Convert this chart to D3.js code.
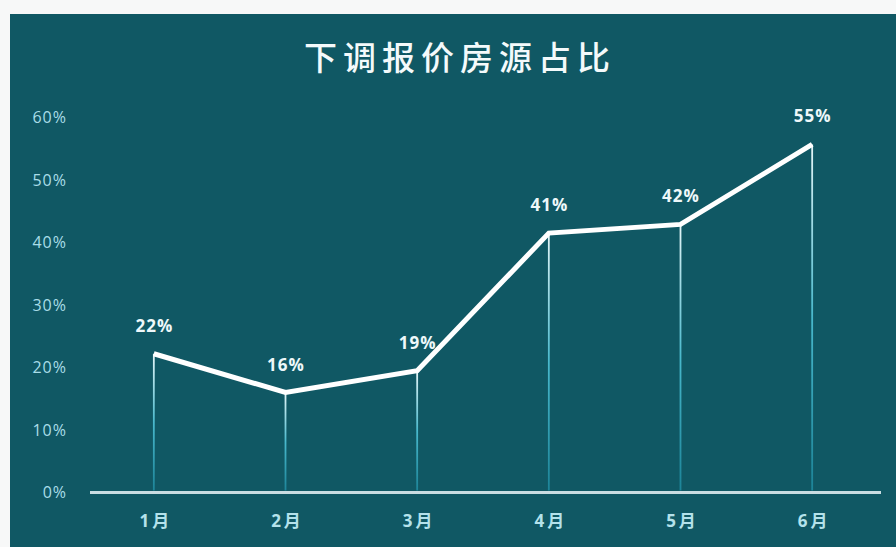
<!DOCTYPE html>
<html>
<head>
<meta charset="utf-8">
<script src="https://cdn.jsdelivr.net/npm/d3@7"></script>
<style>
    body { margin: 0; background: #fff; }
</style>
</head>
<body>
<div id="vis"></div>
<script>
// data
var months = ["1月", "2月", "3月", "4月", "5月", "6月"];
var shares = [22.2, 16.0, 19.5, 41.5, 42.9, 55.7];
var shareLabels = ["22%", "16%", "19%", "41%", "42%", "55%"];
var yTicks = [0, 10, 20, 30, 40, 50, 60];

function lineChart() {
//width and height of svg
    var w = 896;
    var h = 547;

    var svg = d3.select("#vis")
                .append("svg")
                .attr("width", w)
                .attr("height", h)
                .style("display", "block");

    var defs = svg.append("defs");

    // white paper around the scanned chart
    svg.append("rect")
        .attr("width", w)
        .attr("height", h)
        .attr("fill", "#f7f8f8");

    svg.append("rect")
        .attr("x", 10)
        .attr("y", 14)
        .attr("width", w - 10)
        .attr("height", h - 14)
        .attr("fill", "#105864");

//scales
    var xScale = d3.scalePoint()
                    .domain(months)
                    .range([88, 878])
                    .padding(0.5);

    var yScale = d3.scaleLinear()
                    .domain([0, 60])
                    .range([492.5, 117.5]);

//title
    svg.append("text")
        .attr("x", 457)
        .attr("y", 70)
        .attr("text-anchor", "middle")
        .attr("fill", "#f4fafb")
        .attr("font-family", "'Noto Sans CJK SC', sans-serif")
        .attr("font-weight", 500)
        .attr("font-size", "33px")
        .attr("letter-spacing", "6px")
        .attr("dx", 3)
        .text("下调报价房源占比");

//y axis labels (no axis line)
    var yAxis = svg.append("g")
                    .attr("transform", "translate(67,0)")
                    .call(d3.axisLeft(yScale)
                            .tickValues(yTicks)
                            .tickSize(0)
                            .tickPadding(0)
                            .tickFormat(function(d) { return d + "%"; }));

    yAxis.select(".domain").remove();
    yAxis.selectAll("text")
            .attr("fill", "#a9dde8")
            .attr("font-family", "'Open Sans', sans-serif")
            .attr("font-size", "16px")
            .attr("letter-spacing", "1px");

//x axis: baseline + month labels
    svg.append("line")
        .attr("x1", 90)
        .attr("x2", 881)
        .attr("y1", yScale(0))
        .attr("y2", yScale(0))
        .attr("stroke", "#c9dde2")
        .attr("stroke-width", 3);

    var xAxis = svg.append("g")
                    .attr("transform", "translate(0," + yScale(0) + ")")
                    .call(d3.axisBottom(xScale).tickSize(0).tickPadding(22));

    xAxis.select(".domain").remove();
    xAxis.selectAll("text")
            .attr("fill", "#b4e2eb")
            .attr("font-family", "'Open Sans', 'Noto Sans CJK SC', sans-serif")
            .attr("font-weight", 700)
            .attr("font-size", "17px")
            .attr("letter-spacing", "3px")
            .attr("dx", 1.5);

//drop lines from each point to the baseline
    shares.forEach(function(v, i) {
        var g = defs.append("linearGradient")
                    .attr("id", "drop" + i)
                    .attr("gradientUnits", "userSpaceOnUse")
                    .attr("x1", 0).attr("x2", 0)
                    .attr("y1", yScale(v)).attr("y2", yScale(0));
        g.append("stop").attr("offset", "0%").attr("stop-color", "#e6f6f8");
        g.append("stop").attr("offset", "50%").attr("stop-color", "#48b8cc");
        g.append("stop").attr("offset", "100%").attr("stop-color", "#1c8397");
    });

    svg.append("g")
        .selectAll("line")
        .data(shares)
        .enter()
        .append("line")
        .attr("x1", function(d, i) { return xScale(months[i]); })
        .attr("x2", function(d, i) { return xScale(months[i]); })
        .attr("y1", function(d) { return yScale(d); })
        .attr("y2", yScale(0) - 2)
        .attr("stroke", function(d, i) { return "url(#drop" + i + ")"; })
        .attr("stroke-width", 1.8);

//the line itself
    var line = d3.line()
                .x(function(d, i) { return xScale(months[i]); })
                .y(function(d) { return yScale(d); });

    svg.append("path")
        .datum(shares)
        .attr("d", line)
        .attr("fill", "none")
        .attr("stroke", "#ffffff")
        .attr("stroke-width", 5)
        .attr("stroke-linejoin", "miter");

//value labels
    svg.append("g")
        .selectAll("text")
        .data(shares)
        .enter()
        .append("text")
        .attr("x", function(d, i) { return xScale(months[i]); })
        .attr("y", function(d) { return yScale(d) - 22; })
        .attr("dx", 0.5)
        .attr("text-anchor", "middle")
        .attr("fill", "#eef8fa")
        .attr("font-family", "'Open Sans', sans-serif")
        .attr("font-weight", 700)
        .attr("font-size", "17px")
        .attr("letter-spacing", "1px")
        .text(function(d, i) { return shareLabels[i]; });
}

window.onload = lineChart;
</script>
</body>
</html>
